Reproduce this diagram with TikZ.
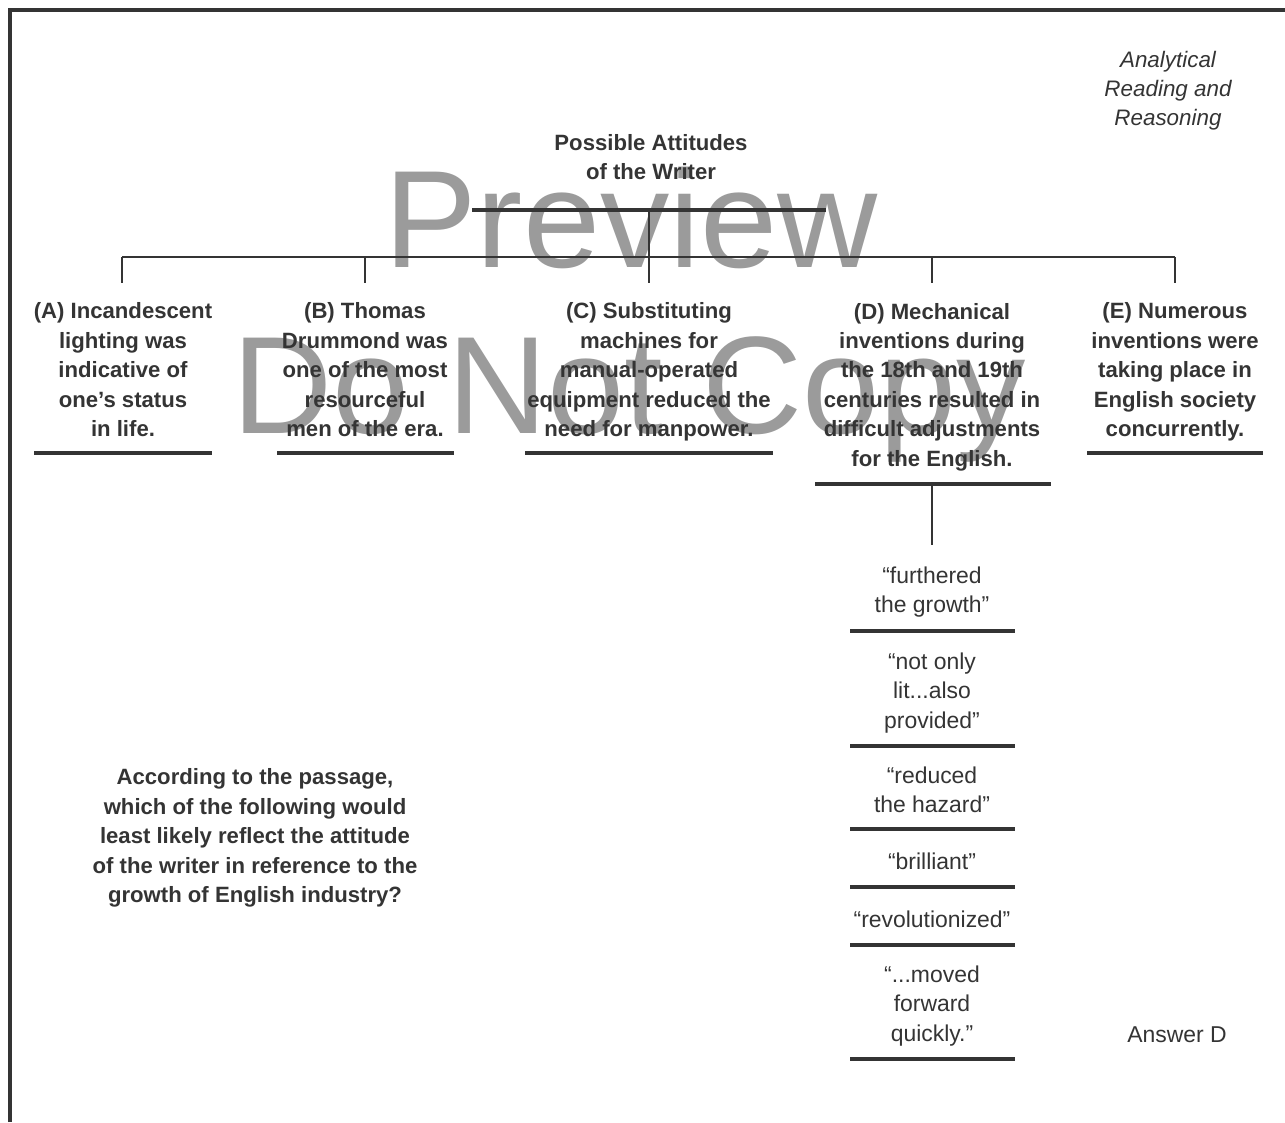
\documentclass[tikz,border=0pt]{standalone}
\usepackage{fontspec}
\setmainfont{Liberation Sans}
\definecolor{ink}{RGB}{52,52,52}
\definecolor{wm}{RGB}{155,155,155}
\begin{document}
\begin{tikzpicture}[x=0.75pt,y=-0.75pt,
  boldtxt/.style={font=\fontsize{16.6}{22.1}\selectfont\bfseries, text=ink, align=center, inner sep=0pt},
  quotetxt/.style={font=\fontsize{17.2}{22.1}\selectfont, text=ink, align=center, inner sep=0pt},
  italtxt/.style={font=\fontsize{16.8}{21.6}\selectfont\itshape, text=ink, align=center, inner sep=0pt},
  rulebar/.style={draw=ink, line width=3.2pt},
  linkline/.style={draw=ink, line width=1.4pt},
  framebar/.style={draw=ink, line width=3pt},
  wmark/.style={font=\fontsize{104}{104}\selectfont, text=wm, anchor=base, inner sep=0pt}]
\useasboundingbox (0,0) rectangle (1285,1122);

% watermark
\node[wmark] (wm1) at (631,267) {Preview};
\node[wmark] (wm2) at (629,433) {Do Not Copy};

% frame
\coordinate (fbl) at (9.5,1122);
\coordinate (ftl) at (9.5,9.5);
\coordinate (ftr) at (1285,9.5);
\draw[framebar] (fbl) -- (ftl) -- (ftr);

% header
\node[italtxt] (hdr) at (1168,91) {Analytical\\Reading and\\Reasoning};

% title
\node[boldtxt] (title) at (651,157) {Possible Attitudes\\of the Writer};
\coordinate (tl) at (472,210);
\coordinate (tr) at (826,210);
\coordinate (tm) at (649,210);
\draw[rulebar] (tl) -- (tr);

% bus
\coordinate (b1) at (122,257);
\coordinate (b2) at (365,257);
\coordinate (b3) at (649,257);
\coordinate (b4) at (932,257);
\coordinate (b5) at (1175,257);
\coordinate (d1) at (122,283);
\coordinate (d2) at (365,283);
\coordinate (d3) at (649,283);
\coordinate (d4) at (932,283);
\coordinate (d5) at (1175,283);
\draw[linkline] (b1) -- (b5);
\draw[linkline] (tm) -- (d3);
\draw[linkline] (b1) -- (d1);
\draw[linkline] (b2) -- (d2);
\draw[linkline] (b4) -- (d4);
\draw[linkline] (b5) -- (d5);

% answers
\node[boldtxt] (ansA) at (123,370) {(A) Incandescent\\lighting was\\indicative of\\one’s status\\in life.};
\node[boldtxt] (ansB) at (365,370) {(B) Thomas\\Drummond was\\one of the most\\resourceful\\men of the era.};
\node[boldtxt] (ansC) at (649,372) {(C) Substituting\\machines for\\manual-operated\\equipment reduced the\\need for manpower.};
\node[boldtxt] (ansD) at (932,387) {(D) Mechanical\\inventions during\\the 18th and 19th\\centuries resulted in\\difficult adjustments\\for the English.};
\node[boldtxt] (ansE) at (1175,372) {(E) Numerous\\inventions were\\taking place in\\English society\\concurrently.};

\coordinate (uA1) at (34,453);  \coordinate (uA2) at (212,453);
\coordinate (uB1) at (277,453); \coordinate (uB2) at (454,453);
\coordinate (uC1) at (525,453); \coordinate (uC2) at (773,453);
\coordinate (uD1) at (815,484); \coordinate (uD2) at (1051,484);
\coordinate (uE1) at (1087,453); \coordinate (uE2) at (1263,453);
\draw[rulebar] (uA1) -- (uA2);
\draw[rulebar] (uB1) -- (uB2);
\draw[rulebar] (uC1) -- (uC2);
\draw[rulebar] (uD1) -- (uD2);
\draw[rulebar] (uE1) -- (uE2);

% D branch
\coordinate (dtop) at (932,484);
\coordinate (dbot) at (932,545);
\draw[linkline] (dtop) -- (dbot);

\node[quotetxt] (q1) at (932,592) {“furthered\\the growth”};
\node[quotetxt] (q2) at (932,693) {“not only\\lit...also\\provided”};
\node[quotetxt] (q3) at (932,790) {“reduced\\the hazard”};
\node[quotetxt] (q4) at (932,861) {“brilliant”};
\node[quotetxt] (q5) at (932,919) {“revolutionized”};
\node[quotetxt] (q6) at (932,1006) {“...moved\\forward\\quickly.”};

\coordinate (r1a) at (850,631);  \coordinate (r1b) at (1015,631);
\coordinate (r2a) at (850,746);  \coordinate (r2b) at (1015,746);
\coordinate (r3a) at (850,829);  \coordinate (r3b) at (1015,829);
\coordinate (r4a) at (850,887);  \coordinate (r4b) at (1015,887);
\coordinate (r5a) at (850,945);  \coordinate (r5b) at (1015,945);
\coordinate (r6a) at (850,1059); \coordinate (r6b) at (1015,1059);
\draw[rulebar] (r1a) -- (r1b);
\draw[rulebar] (r2a) -- (r2b);
\draw[rulebar] (r3a) -- (r3b);
\draw[rulebar] (r4a) -- (r4b);
\draw[rulebar] (r5a) -- (r5b);
\draw[rulebar] (r6a) -- (r6b);

% question
\node[boldtxt] (quest) at (255,838) {According to the passage,\\which of the following would\\least likely reflect the attitude\\of the writer in reference to the\\growth of English industry?};

\node[quotetxt] (answer) at (1177,1035) {Answer D};
\end{tikzpicture}
\end{document}
